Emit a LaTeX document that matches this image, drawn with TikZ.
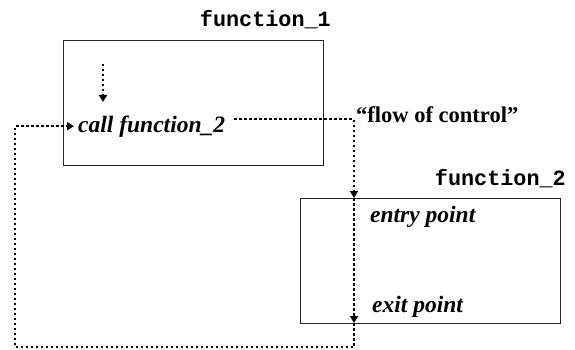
\documentclass[tikz,border=0pt]{standalone}
\usepackage{fontspec}
\setmainfont{Liberation Serif}
\newfontfamily\codefont{Liberation Mono}
\usetikzlibrary{arrows.meta,positioning}
\tikzset{
  funcbox/.style={draw=black!85,line width=1.3pt,minimum width=260pt,minimum height=125pt,inner sep=0pt},
  funcname/.style={font=\codefont\bfseries\fontsize{21.8}{22}\selectfont,inner sep=0pt,anchor=base east},
  stmt/.style={font=\bfseries\itshape\fontsize{23.5}{24}\selectfont,inner sep=0pt,anchor=base west},
  note/.style={font=\bfseries\fontsize{22.5}{23}\selectfont,inner sep=0pt,anchor=base west},
  flow/.style={line width=2.4pt,dash pattern=on 2.5pt off 2.5pt},
  tip/.style={-{Triangle[length=7pt,width=8pt]}}
}
\begin{document}
\begin{tikzpicture}[x=1pt,y=-1pt]
  \useasboundingbox (0,0) rectangle (575,350);
  % the two functions
  \node[funcbox,anchor=north west] (fn1) at (63,40) {};
  \node[funcbox,anchor=north west] (fn2) at (300,198) {};
  \node[funcname] (fn1name) at (331,27) {function\_1};
  \node[funcname] (fn2name) at (566,185) {function\_2};
  % statements
  \node[stmt] (call) at (78,132) {call function\_2};
  \node[stmt] (entry) at (370,222) {entry point};
  \node[stmt] (exit) at (372,312) {exit point};
  \node[note] (flowlbl) at (356,123) {“flow of control”};
  % flow of control
  \coordinate (start) at (103,64);
  \coordinate (stop) at (103,102);
  \coordinate (jin) at (354,198);
  \coordinate (jout) at (354,323);
  \coordinate (back) at (15,347);
  \draw[flow,tip] (start) -- (stop);
  \draw[flow,tip] ([yshift=7pt]call.east) ++(9,0) -| (jin);
  \draw[flow,tip] (jin) -- (jout);
  \draw[flow,tip] (jout) |- (back) |- ([xshift=-4pt]call.west);
\end{tikzpicture}
\end{document}
